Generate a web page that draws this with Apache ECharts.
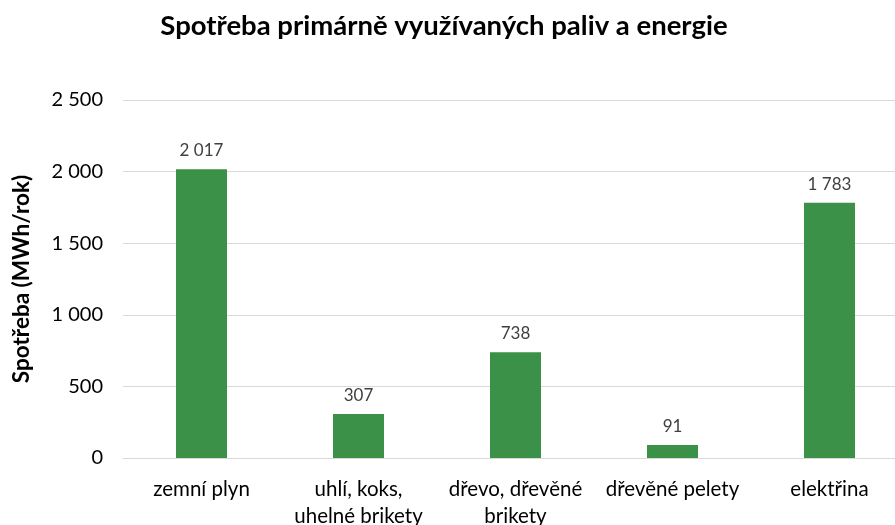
<!DOCTYPE html>
<html>
<head>
<meta charset="utf-8">
<script src="https://cdn.jsdelivr.net/npm/echarts@6/dist/echarts.min.js"></script>
<style>
  html, body { margin: 0; padding: 0; background: #fff; }
  #chart { width: 895px; height: 525px; }
</style>
</head>
<body>
<div id="chart"></div>
<script>
var categories = ["zemní plyn", "uhlí, koks,\nuhelné brikety", "dřevo, dřevěné\nbrikety", "dřevěné pelety", "elektřina"];
var values = [2017, 307, 738, 91, 1783];

function fmt(v) {
    return String(v).replace(/\B(?=(\d{3})+(?!\d))/g, " ");
}

var myChart = echarts.init(document.getElementById("chart"));
var font = "Lato, 'Open Sans', sans-serif";

var option = {
    animation: false,
    title: {
        text: "Spotřeba primárně využívaných paliv a energie",
        left: 439,
        textAlign: "center",
        top: 7,
        textStyle: {fontFamily: font, fontSize: 27.5, fontWeight: "bold", color: "#000"}
    },
    // plot runs past the right edge (reference is cropped there)
    grid: {left: 123, top: 100, width: 785, height: 358, outerBoundsMode: "none"},
    xAxis: {
        type: "category",
        data: categories,
        axisLine: {lineStyle: {color: "#d9d9d9"}},
        axisTick: {show: false},
        axisLabel: {fontFamily: font, fontSize: 20.5, color: "#000", margin: 18, lineHeight: 27, interval: 0}
    },
    yAxis: {
        type: "value",
        min: 0,
        max: 2500,
        interval: 500,
        name: "Spotřeba (MWh/rok)",
        nameLocation: "middle",
        nameRotate: 90,
        nameGap: 90,
        nameTextStyle: {fontFamily: font, fontSize: 22.5, fontWeight: "bold", color: "#000"},
        axisLine: {show: false},
        axisTick: {show: false},
        splitLine: {lineStyle: {color: "#d9d9d9"}},
        axisLabel: {fontFamily: font, fontSize: 20, color: "#000", margin: 20, formatter: fmt}
    },
    series: [{
        type: "bar",
        data: values,
        barWidth: 51,
        itemStyle: {color: "#3a9147"},
        label: {
            show: true,
            position: "top",
            distance: 10,
            fontFamily: font,
            fontSize: 17,
            color: "#404040",
            formatter: function(p){ return fmt(p.value); }
        }
    }]
};
myChart.setOption(option);
</script>
</body>
</html>
